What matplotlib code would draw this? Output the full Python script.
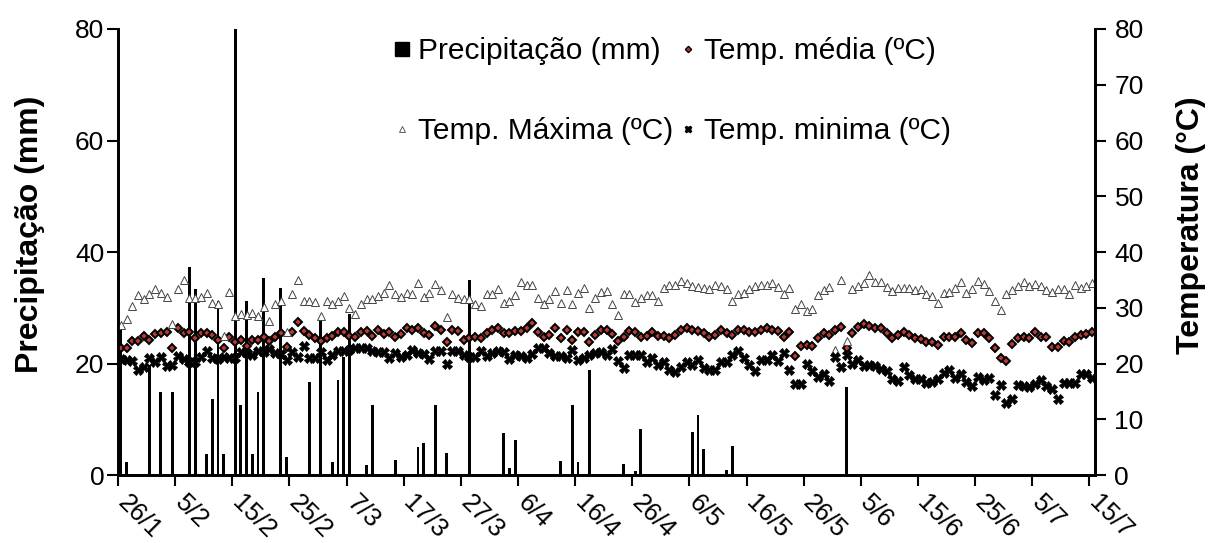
import numpy as np
import matplotlib.pyplot as plt
import matplotlib.transforms as mtransforms
from matplotlib.lines import Line2D

plt.rcParams['font.family'] = ['Liberation Sans', 'DejaVu Sans']

# -----------------------------------------
# data (daily, 26/1 .. 15/7)
# -----------------------------------------
date_labels = ['26/1', '5/2', '15/2', '25/2', '7/3', '17/3', '27/3', '6/4', '16/4',
               '26/4', '6/5', '16/5', '26/5', '5/6', '15/6', '25/6', '5/7', '15/7']

# days with rain (index from 26/1) and amount in mm
rain_day = [0, 1, 5, 7, 9, 12, 13, 15, 16, 17, 18, 20, 21, 22, 23, 24, 25, 28, 29,
            33, 35, 37, 38, 39, 40, 43, 44, 48, 52, 53, 55, 57, 61, 67, 68, 69, 77,
            79, 80, 82, 88, 90, 91, 100, 101, 102, 106, 107, 127]
rain_mm = [26.0, 2.3, 19.8, 14.9, 14.9, 37.4, 33.4, 3.8, 13.7, 31.2, 3.8, 80.0, 12.5,
           31.2, 3.8, 14.9, 35.4, 33.6, 3.3, 16.7, 27.9, 2.3, 17.0, 21.2, 28.8, 1.8,
           12.5, 2.7, 5.1, 5.8, 12.5, 4.0, 34.9, 7.6, 1.3, 6.3, 2.6, 12.5, 2.4, 18.8,
           2.0, 0.7, 8.2, 7.8, 10.7, 4.7, 0.9, 5.2, 15.7]

temp_max = [
    26.9, 27.9, 30.4, 32.2, 31.6, 32.4, 33.3, 32.7, 31.9, 27.0, 33.4, 35.0, 31.8, 31.8,
    31.9, 32.7, 30.9, 30.6, 24.9, 32.8, 28.5, 28.8, 28.7, 29.1, 28.5, 30.1, 27.6, 30.6,
    31.2, 25.7, 32.5, 35.0, 31.2, 31.2, 31.0, 28.5, 31.2, 30.7, 31.3, 32.1, 29.9, 28.8,
    30.7,
    31.5, 31.5, 32.1, 32.7, 34.1, 32.5, 32.0, 32.7, 32.4, 34.5, 31.9, 32.7, 34.3, 33.1,
    28.4, 32.4, 31.8, 31.6, 31.5, 30.7, 30.3, 32.5, 32.5, 33.4, 30.9, 31.2, 32.2, 34.6,
    34.0, 34.0, 31.8, 30.6, 31.6, 33.0, 30.9, 33.1, 30.6, 32.7, 33.6, 29.9, 31.8, 32.8,
    33.0, 30.6, 28.7, 32.5, 32.5, 31.1, 31.7, 32.3, 32.2, 31.2, 33.5, 34.0, 34.1, 34.8,
    34.4, 33.9, 33.7, 33.5, 33.3, 34.0, 33.9, 33.3, 31.2, 32.5, 32.7, 33.3, 33.9, 34.0,
    34.0, 34.4, 33.7, 32.4, 33.6, 29.7, 30.6, 29.4, 29.7, 32.3, 33.1,
    33.8, 22.4, 35.0, 24.0, 33.4, 33.9, 34.4, 35.9, 34.6, 34.6, 33.7, 33.0, 33.6, 33.6,
    33.6, 33.1, 33.3, 32.4, 32.1, 30.9, 32.7, 32.8, 33.6, 34.7, 32.7, 33.3, 34.8, 34.3,
    33.0, 31.2, 29.6, 32.4, 33.1, 33.9, 34.6, 33.9, 34.2, 33.9, 33.1, 32.8, 33.3, 33.3,
    32.5, 34.0, 33.6, 33.9, 34.5]

temp_mean = [
    22.8, 22.8, 24.0, 24.0, 25.0, 24.2, 25.3, 25.4, 25.7, 22.8, 26.4, 25.4, 25.7, 24.5,
    25.5, 25.4, 25.1, 24.2, 22.7, 24.8, 23.8, 24.2, 23.1, 24.2, 24.2, 24.8, 24.0, 24.7,
    25.4, 23.0, 25.6, 27.5, 25.8, 25.1, 24.5, 24.0, 24.6, 24.9, 25.7, 25.7, 25.0, 24.8,
    25.7,
    25.8, 24.9, 26.0, 25.3, 25.7, 24.8, 25.3, 26.4, 26.1, 26.4, 25.4, 25.2, 26.7, 26.0,
    23.8, 26.1, 25.8, 24.3, 24.6, 24.8, 24.5, 25.5, 26.1, 26.3, 25.4, 25.4, 25.9, 25.8,
    26.4, 27.3, 25.6, 24.7, 25.1, 26.4, 24.5, 26.0, 24.3, 25.6, 25.7, 23.8, 25.1, 26.1,
    26.1, 25.3, 24.0, 24.8, 25.8, 25.7, 24.8, 24.9, 25.7, 24.9, 24.9, 24.6, 25.2, 26.0,
    26.4, 26.1, 25.8, 25.4, 24.7, 25.1, 26.1, 25.5, 25.2, 26.0, 26.0, 25.7, 25.6, 26.1,
    26.4, 26.1, 25.8, 24.7, 25.7, 21.3, 23.2, 23.3, 23.2, 24.5, 25.4, 25.2, 26.1, 26.6,
    22.7, 25.5, 26.6, 27.0, 26.8, 26.3, 26.3, 25.4, 24.5, 25.2, 25.7, 25.1, 24.5, 24.4,
    23.9, 23.9, 23.4, 24.8, 24.8, 24.8, 25.5, 24.3, 23.7, 25.4, 25.4, 24.6, 22.7, 20.9,
    20.4, 23.5, 24.6, 24.8, 24.6, 25.7, 24.8, 24.7, 23.0, 22.9, 24.0, 23.9, 24.8, 25.2,
    25.3, 25.6]

temp_min = [
    20.8, 20.6, 20.5, 18.8, 19.4, 20.9, 20.3, 21.1, 19.6, 19.7, 21.3, 20.8, 20.2, 20.2,
    21.2, 22.3, 20.9, 20.8, 21.2, 20.9, 20.9, 22.1, 21.8, 21.5, 22.3, 22.1, 22.6, 21.8,
    21.7, 20.6, 22.1, 21.1, 23.1, 21.0, 21.0, 22.1, 20.6, 21.6, 22.3, 22.3, 22.4, 22.8,
    22.7,
    22.8, 22.2, 22.1, 22.1, 20.9, 21.8, 21.2, 21.5, 22.4, 21.8, 21.7, 20.8, 22.2, 22.2,
    20.0, 22.2, 22.2, 21.5, 21.2, 21.1, 22.2, 21.3, 21.8, 22.2, 22.1, 20.8, 21.6, 21.3,
    20.9, 21.7, 22.8, 22.7, 21.8, 21.4, 21.4, 20.9, 22.4, 20.6, 21.0, 21.5, 21.9, 22.1,
    21.5, 22.6, 20.5, 19.2, 21.6, 21.6, 21.6, 20.3, 21.0, 19.7, 20.2, 18.9, 18.5, 19.4,
    20.3, 19.8, 20.6, 19.2, 18.8, 18.9, 20.2, 20.2, 21.5, 22.2, 21.0, 19.7, 18.6, 20.6,
    20.6, 21.5, 20.4, 21.8, 18.8, 16.3, 16.4, 20.0, 18.6, 17.6, 18.2, 16.8,
    21.2, 19.4, 21.5, 20.0, 20.6, 19.6, 19.8, 19.6, 19.1, 18.6, 17.3, 16.8, 19.3, 18.0,
    17.3, 17.3, 16.5, 16.7, 17.3, 18.3, 18.9, 17.4, 18.1, 16.7, 16.0, 17.5, 17.0, 17.4,
    14.4, 16.1, 13.0, 13.7, 16.1, 16.0, 15.7, 16.4, 17.0, 16.0, 15.5, 13.6, 16.5, 16.5,
    16.5, 18.2, 18.2, 17.4]

# -----------------------------------------
# plot
# -----------------------------------------
n_days = len(temp_mean)
x = np.arange(n_days) + 0.5
precip = np.zeros(n_days)
precip[rain_day] = rain_mm

fig = plt.figure(figsize=(12.08, 5.43), dpi=100)
ax = fig.add_axes([0.0977, 0.1252, 0.8088, 0.8214])
ax2 = ax.twinx()

ax.bar(x, precip, width=0.5, color='black', zorder=2)

red = '#b83a33'
ax2.plot(x, temp_mean, ls='none', marker='D', ms=4.5, mfc=red, mec='black', mew=1.4)
ax2.plot(x, temp_max, ls='none', marker='^', ms=6, mfc='white', mec='#444444', mew=0.7)
ax2.plot(x, temp_min, ls='none', marker='X', ms=7, mfc='black', mec='black', mew=0.6)

ax.set_xlim(0, 171)
ax.set_ylim(0, 80)
ax2.set_ylim(0, 80)
ax.set_yticks(np.arange(0, 81, 20))
ax2.set_yticks(np.arange(0, 81, 10))
ax.set_xticks(np.arange(0, 171, 10))
ax.set_xticklabels(date_labels, rotation=-45, ha='left', va='top',
                   rotation_mode='anchor')

for a in (ax, ax2):
    a.spines['top'].set_visible(False)
    for s in ('left', 'right', 'bottom'):
        a.spines[s].set_linewidth(2)
    a.tick_params(labelsize=19, width=1.5, length=8, direction='out')
ax.tick_params(axis='y', pad=2)
ax2.tick_params(axis='y', pad=6)
ax.tick_params(axis='x', pad=2, labelsize=18.5)

# nudge the slanted date labels right so they start at their tick
shift = mtransforms.ScaledTranslation(0.12, -0.02, fig.dpi_scale_trans)
for lbl in ax.get_xticklabels():
    lbl.set_transform(lbl.get_transform() + shift)

ax.set_ylabel('Precipitação (mm)', fontsize=23, fontweight='bold')
ax.yaxis.set_label_coords(-0.075, 0.54)
ax2.set_ylabel('Temperatura (°C)', fontsize=23, fontweight='bold')
ax2.yaxis.set_label_coords(1.083, 0.56)

# legend, two columns
h_rain = Line2D([], [], ls='none', marker='s', ms=10, color='black')
h_mean = Line2D([], [], ls='none', marker='D', ms=3.2, mfc=red, mec='black', mew=1)
h_max = Line2D([], [], ls='none', marker='^', ms=4, mfc='white', mec='#444444', mew=0.6)
h_min = Line2D([], [], ls='none', marker='X', ms=5, color='black')

ax2.legend([h_rain, h_max, h_mean, h_min],
           ['Precipitação (mm)', 'Temp. Máxima (ºC)', 'Temp. média (ºC)',
            'Temp. minima (ºC)'],
           ncol=2, loc='center left', bbox_to_anchor=(0.3257, 0.832),
           bbox_transform=fig.transFigure, frameon=False, fontsize=21.5,
           handlelength=0.6, handletextpad=0.22, columnspacing=0.2,
           labelspacing=1.75, borderpad=0, borderaxespad=0)

fig.savefig('out.png', dpi=100)
